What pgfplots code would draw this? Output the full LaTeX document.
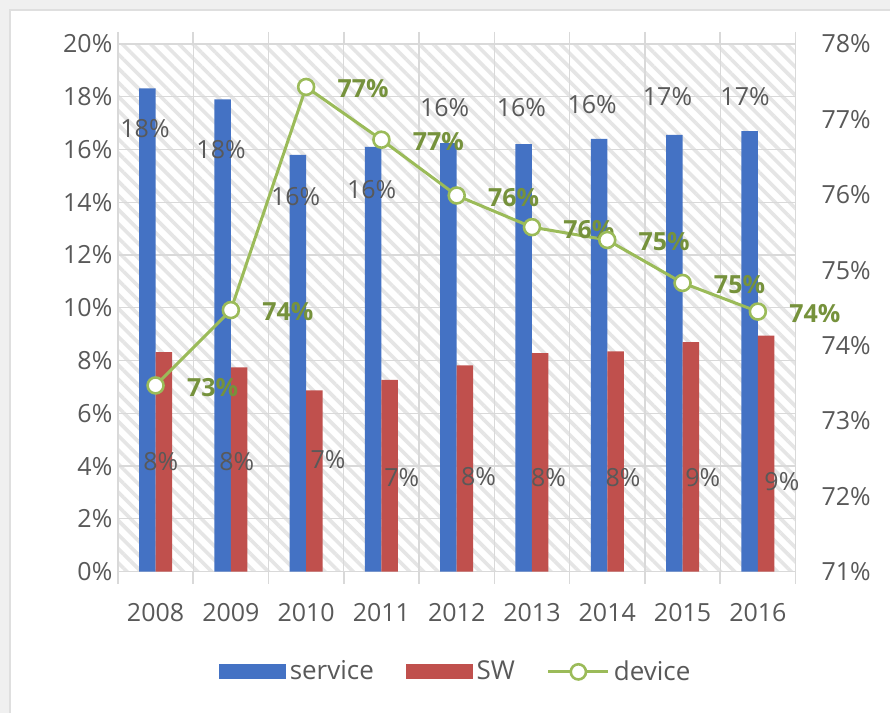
\documentclass[border=0pt]{standalone}
\usepackage{pgfplots}
\pgfplotsset{compat=1.18}
\usetikzlibrary{patterns.meta}
\usepackage{fontspec}
\setmainfont{Open Sans}
\definecolor{cserv}{RGB}{68,114,196}
\definecolor{csw}{RGB}{192,80,77}
\definecolor{cdev}{RGB}{155,187,89}
\definecolor{cdevlab}{RGB}{118,146,60}
\definecolor{ctxt}{RGB}{89,89,89}
\definecolor{cgrid}{RGB}{217,217,217}
\begin{document}
\begin{tikzpicture}
\fill[gray!12] (-59pt,-70.5pt) rectangle (386.5pt,286pt);
\fill[white] (-54pt,-70.5pt) rectangle (386.5pt,281pt);
\draw[gray!25, line width=0.6pt] (-54pt,-70.5pt) -- (-54pt,281pt) -- (386.5pt,281pt);
\useasboundingbox (-59pt,-70.5pt) rectangle (386.5pt,286pt);
\begin{axis}[
  at={(0pt,0pt)}, anchor=south west,
  scale only axis, width=339pt, height=264pt,
  font=\fontsize{12.5}{14}\selectfont, /pgf/number format/assume math mode=true,
  xmin=-0.5, xmax=8.5, ymin=0, ymax=20,
  ybar=0pt, bar width=8.25pt,
  xtick={0,...,8}, xticklabels={2008,2009,2010,2011,2012,2013,2014,2015,2016},
  minor xtick={-0.5,0.5,...,8.5},
  xminorgrids=true, ymajorgrids=true,
  ytick={0,2,...,20},
  yticklabel={\pgfmathprintnumber{\tick}\%},
  major x tick style={draw=none},
  major y tick style={draw=none},
  minor x tick style={draw=cgrid, line width=0.8pt},
  minor tick length=6pt,
  tick align=outside,
  grid style={draw=cgrid, line width=0.6pt},
  minor grid style={draw=cgrid, line width=0.6pt},
  axis line style={draw=cgrid, line width=0.8pt},
  tick label style={text=ctxt},
  xticklabel style={yshift=-8pt},
  yticklabel style={xshift=5pt},
  axis background/.style={pattern={Lines[angle=-45,distance=5pt,line width=1.8pt]}, pattern color=gray!20},
  clip=false,
]
\addplot[fill=cserv, draw=none] coordinates {(0,18.32) (1,17.9) (2,15.8) (3,16.1) (4,16.24) (5,16.2) (6,16.4) (7,16.55) (8,16.7)};
\addplot[fill=csw, draw=none] coordinates {(0,8.32) (1,7.74) (2,6.87) (3,7.27) (4,7.82) (5,8.28) (6,8.35) (7,8.7) (8,8.95)};
% service labels
\node[text=ctxt] at (axis cs:-0.14,16.8) {18\%};
\node[text=ctxt] at (axis cs:0.87,16.0) {18\%};
\node[text=ctxt] at (axis cs:1.86,14.2) {16\%};
\node[text=ctxt] at (axis cs:2.87,14.5) {16\%};
\node[text=ctxt] at (axis cs:3.84,17.6) {16\%};
\node[text=ctxt] at (axis cs:4.86,17.6) {16\%};
\node[text=ctxt] at (axis cs:5.80,17.7) {16\%};
\node[text=ctxt] at (axis cs:6.80,18.0) {17\%};
\node[text=ctxt] at (axis cs:7.83,18.0) {17\%};
% SW labels
\node[text=ctxt] at (axis cs:0.07,4.17) {8\%};
\node[text=ctxt] at (axis cs:1.08,4.17) {8\%};
\node[text=ctxt] at (axis cs:2.29,4.24) {7\%};
\node[text=ctxt] at (axis cs:3.27,3.56) {7\%};
\node[text=ctxt] at (axis cs:4.29,3.6) {8\%};
\node[text=ctxt] at (axis cs:5.22,3.56) {8\%};
\node[text=ctxt] at (axis cs:6.21,3.56) {8\%};
\node[text=ctxt] at (axis cs:7.27,3.56) {9\%};
\node[text=ctxt] at (axis cs:8.32,3.41) {9\%};
\end{axis}
\begin{axis}[
  at={(0pt,0pt)}, anchor=south west,
  scale only axis, width=339pt, height=264pt,
  font=\fontsize{12.5}{14}\selectfont, /pgf/number format/assume math mode=true,
  xmin=-0.5, xmax=8.5, ymin=71, ymax=78,
  axis x line=none, axis y line*=right,
  y axis line style={draw=none},
  ytick={71,...,78},
  yticklabel={\pgfmathprintnumber{\tick}\%},
  major y tick style={draw=none},
  yticklabel style={text=ctxt, xshift=9.5pt},
  clip=false,
  legend style={at={(0.5,-0.19)}, anchor=center, draw=none, fill=none, legend columns=-1,
    /tikz/every even column/.append style={column sep=14pt}, text=ctxt, font=\fontsize{13}{14}\selectfont},
]
\addlegendimage{legend image code/.code={\fill[cserv] (0pt,-3.5pt) rectangle (33pt,3.5pt);}}
\addlegendentry{service}
\addlegendimage{legend image code/.code={\fill[csw] (0pt,-3.5pt) rectangle (33pt,3.5pt);}}
\addlegendentry{SW}
\addlegendimage{legend image code/.code={\draw[cdev, line width=1.5pt] (-8pt,0pt) -- (22pt,0pt); \draw[cdev, line width=1.3pt, fill=white] (7pt,0pt) circle (3.8pt);}}
\addlegendentry{device}
\addplot[cdev, line width=1.5pt, mark=*, mark size=4pt, mark options={fill=white, draw=cdev, line width=1.3pt},
  point meta=explicit symbolic, nodes near coords,
  every node near coord/.append style={anchor=center, xshift=28.5pt, yshift=-1pt, text=cdevlab, font=\fontsize{12.5}{14}\selectfont\bfseries}]
  coordinates {(0,73.47)[73\%] (1,74.47)[74\%] (2,77.43)[77\%] (3,76.73)[77\%] (4,75.99)[76\%] (5,75.57)[76\%] (6,75.40)[75\%] (7,74.83)[75\%] (8,74.45)[74\%]};
\end{axis}
\end{tikzpicture}
\end{document}
